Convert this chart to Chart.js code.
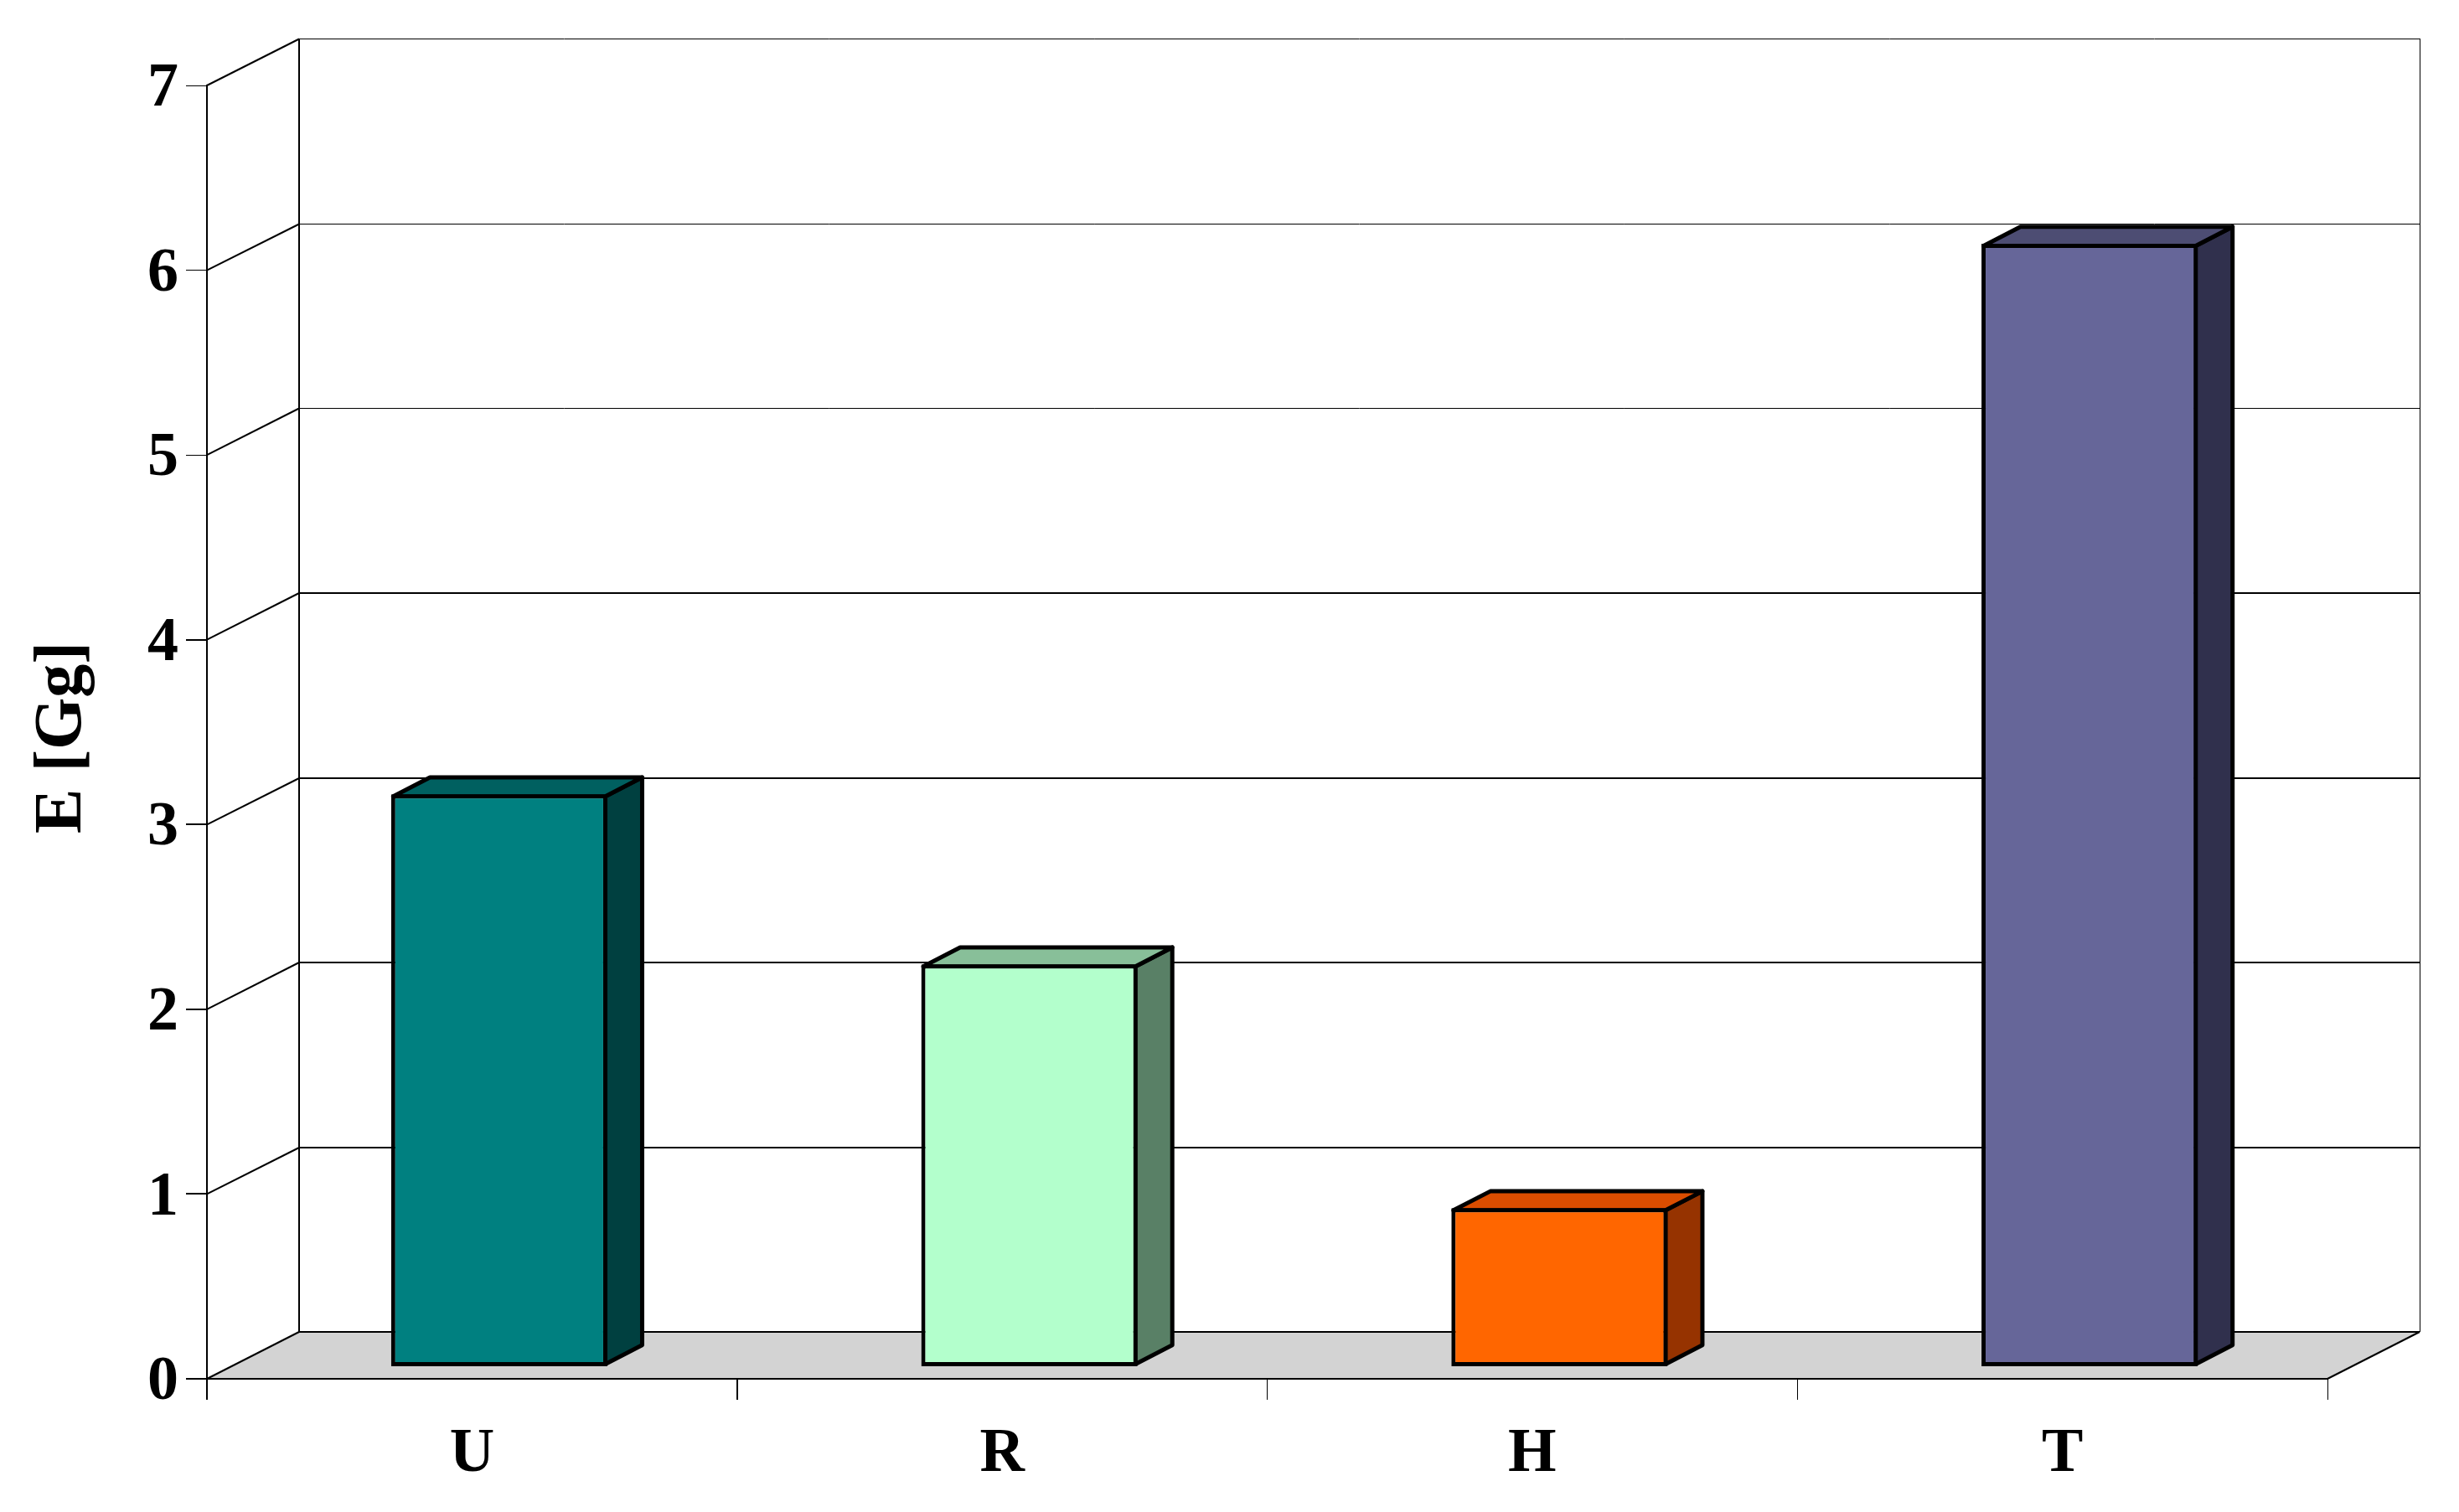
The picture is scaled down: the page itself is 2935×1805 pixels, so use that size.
<!DOCTYPE html>
<html>
<head>
    <script src="https://cdnjs.cloudflare.com/ajax/libs/Chart.js/4.4.1/chart.umd.min.js"></script>
    <style>
        html, body { margin: 0; padding: 0; background: #fff; }
        canvas { display: block; }
    </style>
</head>
<body>
    <canvas id="myChart" width="2935" height="1805"></canvas>

    <script type="text/javascript">
        const categories = ['U', 'R', 'H', 'T'];
        const emissions = [3.10, 2.18, 0.86, 6.08];
        const yTicks = [0, 1, 2, 3, 4, 5, 6, 7];
        const frontColors = ['#008080', '#B3FFCC', '#FF6600', '#666699'];
        const sideColors = ['#004040', '#598066', '#963300', '#30304D'];
        const topColors = ['#006060', '#88BF99', '#DB4D00', '#4D4D73'];

        const serif = '"Liberation Serif", serif';
        const wallDepth = { x: 110, y: 56 };
        const barShift = { x: 32.5, y: 14 };
        const barDepth = { x: 44, y: 22.7 };
        const barLine = 5;

        // upper gridlines are hairlines in the original
        function gridWidth(value) {
            return value >= 5 ? 1 : 2;
        }

        function crisp(pos, width) {
            return width === 1 ? Math.round(pos) + 0.5 : Math.ceil(pos);
        }

        function line(ctx, x1, y1, x2, y2, width) {
            ctx.lineWidth = width;
            ctx.beginPath();
            ctx.moveTo(x1, y1);
            ctx.lineTo(x2, y2);
            ctx.stroke();
        }

        function face(ctx, pts, fill) {
            ctx.beginPath();
            ctx.moveTo(pts[0][0], pts[0][1]);
            for (let i = 1; i < pts.length; i++) ctx.lineTo(pts[i][0], pts[i][1]);
            ctx.closePath();
            ctx.fillStyle = fill;
            ctx.fill();
            ctx.stroke();
        }

        // back walls and floor of the fake 3d box
        const wallsPlugin = {
            id: 'walls',
            beforeDraw(chart) {
                const ctx = chart.ctx;
                const area = chart.chartArea;
                const yScale = chart.scales.y;
                const dx = wallDepth.x, dy = wallDepth.y;
                const y0 = yScale.getPixelForValue(0);
                const backLeft = area.left + dx, backRight = area.right + dx;

                ctx.save();
                ctx.fillStyle = '#fff';
                ctx.fillRect(0, 0, chart.width, chart.height);

                ctx.strokeStyle = '#000';
                ctx.fillStyle = '#D3D3D3';
                ctx.beginPath();
                ctx.moveTo(area.left, y0);
                ctx.lineTo(backLeft, y0 - dy);
                ctx.lineTo(backRight, y0 - dy);
                ctx.lineTo(area.right, y0);
                ctx.closePath();
                ctx.fill();

                yTicks.forEach(function(v) {
                    const py = yScale.getPixelForValue(v);
                    const w = gridWidth(v);
                    const by = crisp(py - dy, w);
                    line(ctx, area.left, py, backLeft, by, 2);
                    line(ctx, backLeft, by, backRight, by, w);
                });
                line(ctx, backRight, y0 - dy, area.right, y0, 2);
                line(ctx, backLeft, area.top - dy, backLeft, y0 - dy, 2);
                line(ctx, backRight + 0.5, area.top - dy, backRight + 0.5, y0 - dy, 1);

                // axis title
                ctx.translate(96, 880.5);
                ctx.rotate(-Math.PI / 2);
                ctx.font = 'bold 80px ' + serif;
                ctx.fillStyle = '#000';
                ctx.textAlign = 'center';
                ctx.textBaseline = 'alphabetic';
                ctx.fillText('E [Gg]', 0, 0);
                ctx.restore();
            }
        };

        // side and top faces, then shift the library bars to mid depth
        const boxPlugin = {
            id: 'box',
            beforeDatasetsDraw(chart) {
                const ctx = chart.ctx;
                ctx.save();
                ctx.translate(barShift.x, -barShift.y);
                ctx.strokeStyle = '#000';
                ctx.lineWidth = barLine;
                ctx.lineJoin = 'round';
                chart.getDatasetMeta(0).data.forEach(function(bar, i) {
                    const half = bar.width / 2 - barLine / 2;
                    const L = bar.x - half, R = bar.x + half;
                    const T = bar.y + barLine / 2, B = bar.base - barLine / 2;
                    const dx = barDepth.x, dy = barDepth.y;
                    face(ctx, [[R, T], [R + dx, T - dy], [R + dx, B - dy], [R, B]], sideColors[i]);
                    face(ctx, [[L, T], [L + dx, T - dy], [R + dx, T - dy], [R, T]], topColors[i]);
                });
            },
            afterDatasetsDraw(chart) {
                chart.ctx.restore();
            }
        };

        const config = {
            type: 'bar',
            data: {
                labels: categories,
                datasets: [{
                    data: emissions,
                    backgroundColor: frontColors,
                    borderColor: '#000',
                    borderWidth: barLine,
                    borderSkipped: false,
                    categoryPercentage: 1,
                    barPercentage: 0.408,
                    clip: false
                }]
            },
            options: {
                responsive: false,
                animation: false,
                layout: { padding: { top: 102, right: 157, left: 0, bottom: 0 } },
                plugins: {
                    legend: { display: false },
                    title: { display: false },
                    tooltip: { enabled: false }
                },
                scales: {
                    x: {
                        afterFit(scale) { scale.height = 159; },
                        border: { display: true, color: '#000', width: 2 },
                        grid: {
                            drawOnChartArea: false,
                            drawTicks: true,
                            tickLength: 25,
                            color: '#000',
                            lineWidth: function(c) { return c.index < 2 ? 2 : 1; },
                            offset: true
                        },
                        ticks: {
                            color: '#000',
                            padding: 21,
                            maxRotation: 0,
                            font: { family: serif, weight: 'bold', size: 74 }
                        }
                    },
                    y: {
                        min: 0,
                        max: 7,
                        afterFit(scale) { scale.width = 247; },
                        afterBuildTicks(scale) { scale.ticks = yTicks.map(function(v) { return { value: v }; }); },
                        border: { display: true, color: '#000', width: 2 },
                        grid: {
                            drawOnChartArea: false,
                            drawTicks: true,
                            tickLength: 25,
                            color: '#000',
                            lineWidth: function(c) { return gridWidth(c.tick.value); }
                        },
                        ticks: {
                            color: '#000',
                            padding: 9,
                            labelOffset: 5,
                            font: { family: serif, weight: 'bold', size: 74 }
                        }
                    }
                }
            },
            plugins: [wallsPlugin, boxPlugin]
        };

        const chart = new Chart(document.getElementById('myChart'), config);
    </script>
</body>
</html>
